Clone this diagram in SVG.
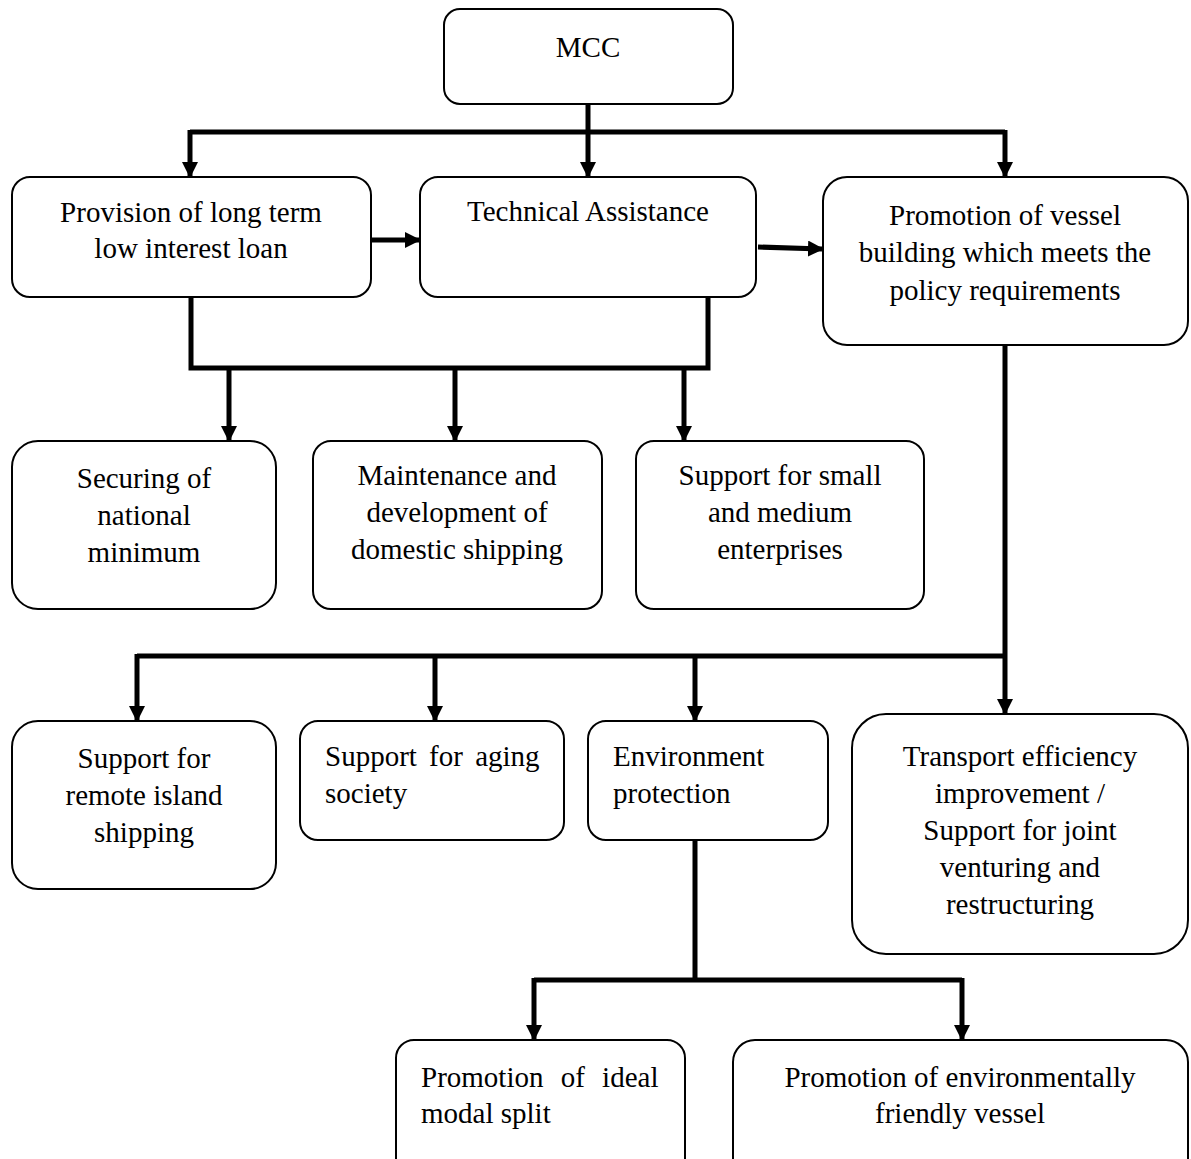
<svg xmlns="http://www.w3.org/2000/svg" width="1191" height="1159" viewBox="0 0 1191 1159">
<style>
.box{fill:#fff;stroke:#000;stroke-width:2}
.t{font-family:"Liberation Serif","Times New Roman",serif;font-size:29px;fill:#000}
.c{text-anchor:middle}
.ln{fill:none;stroke:#000;stroke-width:5}
</style>
<defs>
<marker id="ah" markerUnits="userSpaceOnUse" markerWidth="16" markerHeight="16" refX="14" refY="8" orient="auto">
<path d="M0,0 L16,8 L0,16 Z" fill="#000"/>
</marker>
</defs>
<rect width="1191" height="1159" fill="#fff"/>
<g id="connectors">
<path class="ln" d="M588,104 V132"/>
<path class="ln" d="M190,132 H1005"/>
<path class="ln" d="M190,130 V176" marker-end="url(#ah)"/>
<path class="ln" d="M588,130 V176" marker-end="url(#ah)"/>
<path class="ln" d="M1005,130 V176" marker-end="url(#ah)"/>
<path class="ln" d="M371,240 H419" marker-end="url(#ah)"/>
<path class="ln" d="M758,247 L822,249" marker-end="url(#ah)"/>
<path class="ln" d="M191,297 V368 H708 V297"/>
<path class="ln" d="M229,366 V440" marker-end="url(#ah)"/>
<path class="ln" d="M455,366 V440" marker-end="url(#ah)"/>
<path class="ln" d="M684,366 V440" marker-end="url(#ah)"/>
<path class="ln" d="M1005,345 V713" marker-end="url(#ah)"/>
<path class="ln" d="M137,656 H1005"/>
<path class="ln" d="M137,654 V720" marker-end="url(#ah)"/>
<path class="ln" d="M435,654 V720" marker-end="url(#ah)"/>
<path class="ln" d="M695,654 V720" marker-end="url(#ah)"/>
<path class="ln" d="M695,840 V980"/>
<path class="ln" d="M534,980 H962"/>
<path class="ln" d="M534,978 V1039" marker-end="url(#ah)"/>
<path class="ln" d="M962,978 V1039" marker-end="url(#ah)"/>
</g>
<g id="mcc"><rect class="box" x="444" y="9" width="289" height="95" rx="16"/><text class="t c" x="588" y="57">MCC</text></g>
<g id="loan"><rect class="box" x="12" y="177" width="359" height="120" rx="18"/><text class="t c" x="191" y="222">Provision of long term</text><text class="t c" x="191" y="258">low interest loan</text></g>
<g id="tech"><rect class="box" x="420" y="177" width="336" height="120" rx="18"/><text class="t c" x="588" y="221">Technical Assistance</text></g>
<g id="vessel"><rect class="box" x="823" y="177" width="365" height="168" rx="24"/><text class="t c" x="1005" y="225">Promotion of vessel</text><text class="t c" x="1005" y="262">building which meets the</text><text class="t c" x="1005" y="300">policy requirements</text></g>
<g id="securing"><rect class="box" x="12" y="441" width="264" height="168" rx="26"/><text class="t c" x="144" y="488">Securing of</text><text class="t c" x="144" y="525">national</text><text class="t c" x="144" y="562">minimum</text></g>
<g id="maint"><rect class="box" x="313" y="441" width="289" height="168" rx="18"/><text class="t c" x="457" y="485">Maintenance and</text><text class="t c" x="457" y="522">development of</text><text class="t c" x="457" y="559">domestic shipping</text></g>
<g id="sme"><rect class="box" x="636" y="441" width="288" height="168" rx="18"/><text class="t c" x="780" y="485">Support for small</text><text class="t c" x="780" y="522">and medium</text><text class="t c" x="780" y="559">enterprises</text></g>
<g id="remote"><rect class="box" x="12" y="721" width="264" height="168" rx="26"/><text class="t c" x="144" y="768">Support for</text><text class="t c" x="144" y="805">remote island</text><text class="t c" x="144" y="842">shipping</text></g>
<g id="aging"><rect class="box" x="300" y="721" width="264" height="119" rx="18"/><text class="t" x="325" y="766" word-spacing="5">Support for aging</text><text class="t" x="325" y="803">society</text></g>
<g id="env"><rect class="box" x="588" y="721" width="240" height="119" rx="18"/><text class="t" x="613" y="766">Environment</text><text class="t" x="613" y="803">protection</text></g>
<g id="transport"><rect class="box" x="852" y="714" width="336" height="240" rx="34"/><text class="t c" x="1020" y="766">Transport efficiency</text><text class="t c" x="1020" y="803">improvement /</text><text class="t c" x="1020" y="840">Support for joint</text><text class="t c" x="1020" y="877">venturing and</text><text class="t c" x="1020" y="914">restructuring</text></g>
<g id="modal"><rect class="box" x="396" y="1040" width="289" height="140" rx="18"/><text class="t" x="421" y="1087" word-spacing="10">Promotion of ideal</text><text class="t" x="421" y="1123">modal split</text></g>
<g id="friendly"><rect class="box" x="733" y="1040" width="455" height="140" rx="22"/><text class="t c" x="960" y="1087">Promotion of environmentally</text><text class="t c" x="960" y="1123">friendly vessel</text></g>
</svg>
